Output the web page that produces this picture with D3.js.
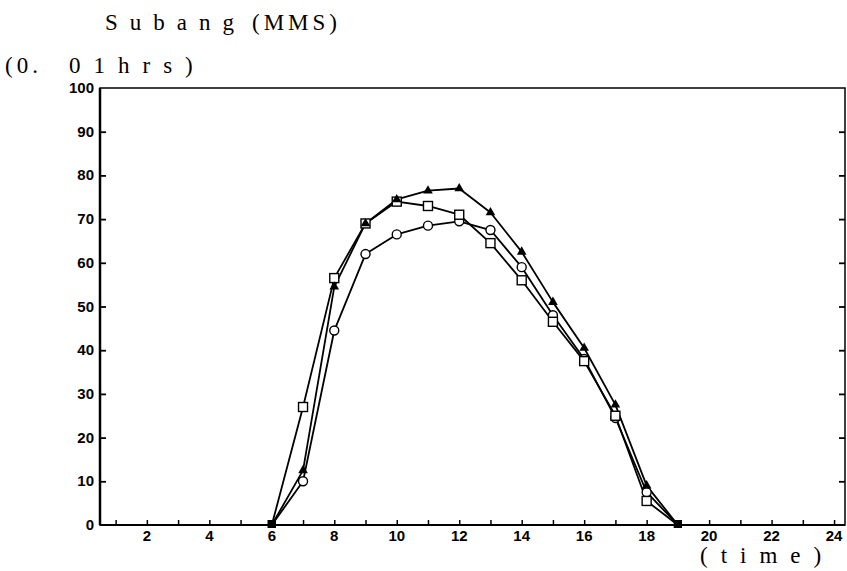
<!DOCTYPE html>
<html>
<head>
<meta charset="utf-8">
<script src="https://cdn.jsdelivr.net/npm/d3@7"></script>
<style>
  html, body { margin: 0; padding: 0; background: #fff; }
  svg { display: block; }
</style>
</head>
<body>
<svg id="chart" width="847" height="571"></svg>
<script>
// ---- data ----
const hours = [6, 7, 8, 9, 10, 11, 12, 13, 14, 15, 16, 17, 18, 19];
const seriesTriangle = [0, 12.5, 54.5, 69, 74.5, 76.5, 77, 71.5, 62.5, 51, 40.5, 27.5, 9, 0];
const seriesSquare   = [0, 27, 56.5, 69, 74, 73, 71, 64.5, 56, 46.5, 37.5, 25, 5.5, 0];
const seriesCircle   = [0, 10, 44.5, 62, 66.5, 68.5, 69.5, 67.5, 59, 48, 38, 24.5, 7.5, 0];
const xTickLabels = [2, 4, 6, 8, 10, 12, 14, 16, 18, 20, 22, 24];
const xMinorTicks = d3.range(1, 25);
const yTickLabels = [0, 10, 20, 30, 40, 50, 60, 70, 80, 90, 100];
const titleParts = ["Subang", "(MMS)"];
const yUnitParts = ["(0.", "01hrs)"];
const xUnitText = "(time)";

// ---- layout ----
const svg = d3.select("#chart");
const pLeft = 100, pRight = 845, pTop = 88, pBottom = 525;
const x = d3.scaleLinear().domain([0.5, 24.35]).range([pLeft, pRight]);
const y = d3.scaleLinear().domain([0, 100]).range([pBottom, pTop]);

const serif = "'Liberation Serif', 'DejaVu Serif', serif";
const sans = "'Liberation Sans Narrow', 'Liberation Sans', Arial, sans-serif";

// frame
svg.append("rect")
  .attr("x", pLeft).attr("y", pTop)
  .attr("width", pRight - pLeft).attr("height", pBottom - pTop)
  .attr("fill", "none").attr("stroke", "#000").attr("stroke-width", 1.5);
svg.append("line").attr("x1", pLeft).attr("x2", pLeft).attr("y1", pTop).attr("y2", pBottom)
  .attr("stroke", "#000").attr("stroke-width", 2.5);
svg.append("line").attr("x1", pLeft).attr("x2", pRight).attr("y1", pBottom).attr("y2", pBottom)
  .attr("stroke", "#000").attr("stroke-width", 2);

// y axis (ticks inward)
const yAxis = d3.axisRight(y).tickValues(yTickLabels.filter(d => d > 0 && d < 100)).tickSize(6).tickFormat("");
const gy = svg.append("g").attr("transform", `translate(${pLeft},0)`).call(yAxis);
gy.select(".domain").remove();
gy.selectAll(".tick line").attr("stroke", "#000").attr("stroke-width", 1.8);
// right side ticks inward
const yAxisR = d3.axisLeft(y).tickValues(yTickLabels.filter(d => d > 0 && d < 100)).tickSize(6).tickFormat("");
const gyr = svg.append("g").attr("transform", `translate(${pRight},0)`).call(yAxisR);
gyr.select(".domain").remove();
gyr.selectAll(".tick line").attr("stroke", "#000").attr("stroke-width", 1.8);

// y labels
svg.append("g").selectAll("text").data(yTickLabels).join("text")
  .attr("x", pLeft - 6).attr("y", d => y(d) + 5)
  .attr("text-anchor", "end")
  .attr("font-family", sans).attr("font-weight", "bold").attr("font-size", 15)
  .text(d => d);

// x minor ticks (upward)
const xAxis = d3.axisTop(x).tickValues(xMinorTicks).tickSize(5).tickFormat("");
const gx = svg.append("g").attr("transform", `translate(0,${pBottom})`).call(xAxis);
gx.select(".domain").remove();
gx.selectAll(".tick line").attr("stroke", "#000").attr("stroke-width", 1.5);

// x labels
svg.append("g").selectAll("text").data(xTickLabels).join("text")
  .attr("x", d => x(d)).attr("y", pBottom + 16)
  .attr("text-anchor", "middle")
  .attr("font-family", sans).attr("font-weight", "bold").attr("font-size", 15)
  .text(d => d);

// texts
const title = svg.append("text").attr("y", 30)
  .attr("font-family", serif).attr("font-size", 23);
title.append("tspan").attr("x", 105).attr("letter-spacing", 12).text(titleParts[0]);
title.append("tspan").attr("x", 252).attr("letter-spacing", 4).text(titleParts[1]);

const yUnit = svg.append("text").attr("y", 73)
  .attr("font-family", serif).attr("font-size", 23);
yUnit.append("tspan").attr("x", 5).attr("letter-spacing", 4).text(yUnitParts[0]);
yUnit.append("tspan").attr("x", 69).attr("letter-spacing", 13).text(yUnitParts[1]);

svg.append("text").attr("x", 700).attr("y", 563)
  .attr("font-family", serif).attr("font-size", 23).attr("letter-spacing", 13)
  .text(xUnitText);

// lines
const line = d3.line().x((d, i) => x(hours[i])).y(d => y(d));
const allSeries = [
  {vals: seriesCircle, shape: "circle"},
  {vals: seriesSquare, shape: "square"},
  {vals: seriesTriangle, shape: "triangle"}
];
allSeries.forEach(s => {
  svg.append("path").datum(s.vals)
    .attr("d", line).attr("fill", "none")
    .attr("stroke", "#000").attr("stroke-width", 1.8).attr("stroke-linejoin", "round");
});
allSeries.forEach(s => {
  const g = svg.append("g");
  s.vals.forEach((v, i) => {
    const cx = x(hours[i]), cy = y(v);
    if (v === 0) {
      g.append("rect").attr("x", cx - 4).attr("y", cy - 5).attr("width", 8).attr("height", 8).attr("fill", "#000");
      return;
    }
    if (s.shape === "circle") {
      g.append("circle").attr("cx", cx).attr("cy", cy).attr("r", 4.5)
        .attr("fill", "#fff").attr("stroke", "#000").attr("stroke-width", 1.4);
    } else if (s.shape === "square") {
      g.append("rect").attr("x", cx - 4.5).attr("y", cy - 4.5).attr("width", 9).attr("height", 9)
        .attr("fill", "#fff").attr("stroke", "#000").attr("stroke-width", 1.4);
    } else {
      g.append("path").attr("d", d3.symbol(d3.symbolTriangle, 40)())
        .attr("transform", `translate(${cx},${cy})`).attr("fill", "#000");
    }
  });
});
</script>
</body>
</html>
